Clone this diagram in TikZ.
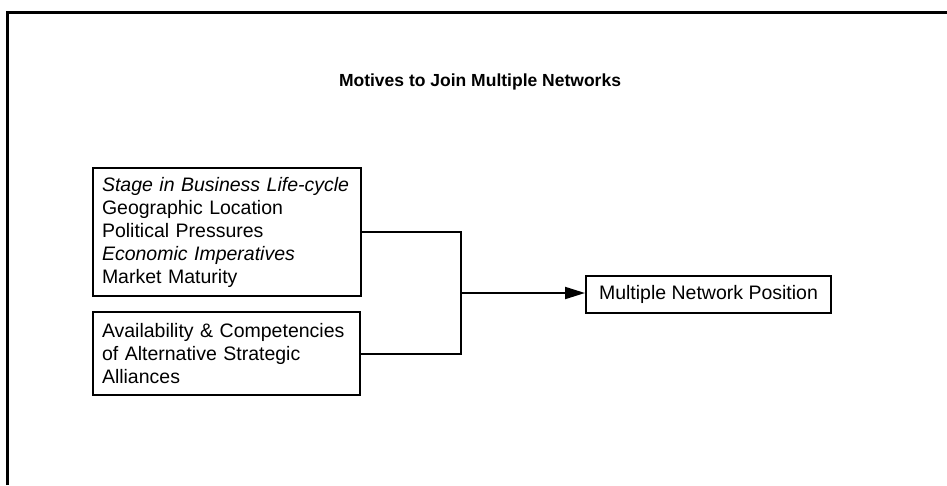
\documentclass[tikz,border=0pt]{standalone}
\usepackage{fontspec}
\setmainfont{Liberation Sans}
\usetikzlibrary{arrows.meta}
\begin{document}
\begin{tikzpicture}[x=1pt,y=-1pt,
  framerule/.style={line width=3pt},
  factorbox/.style={draw,line width=2pt,align=left,anchor=center,
    inner xsep=9pt,inner ysep=0pt,
    font=\fontsize{19.5}{23}\selectfont},
  link/.style={line width=2pt},
  head/.style={link,-{Triangle[length=20pt,width=12pt]}}]
  \useasboundingbox (0,0) rectangle (947,485);
  % open frame: top and left rules only
  \draw[framerule] (7,485) -- (7,12) -- (947,12);
  % heading
  \node[font=\bfseries\fontsize{17.5}{21}\selectfont] (title) at (480,82)
    {Motives to Join Multiple Networks};
  % the two groups of motives
  \node[factorbox,text width=250pt,minimum height=128pt] (motives) at (227,232)
    {\textit{Stage in Business Life-cycle}\\
     Geographic Location\\
     Political Pressures\\
     \textit{Economic Imperatives}\\
     Market Maturity};
  \node[factorbox,text width=249pt,minimum height=83pt] (alliances) at (226.5,353.5)
    {Availability \& Competencies\\
     of Alternative Strategic\\
     Alliances};
  % outcome
  \node[draw,line width=2pt,inner xsep=10pt,minimum width=245pt,minimum height=37pt,
    font=\fontsize{19.5}{23}\selectfont,anchor=west] (position) at (585,294)
    {Multiple Network Position};
  % joining connector
  \coordinate (join) at (461,293);
  \draw[link] (motives.east) -- (motives.east -| join) -- (alliances.east -| join) -- (alliances.east);
  \draw[head] (join) -- (join -| position.west);
\end{tikzpicture}
\end{document}
